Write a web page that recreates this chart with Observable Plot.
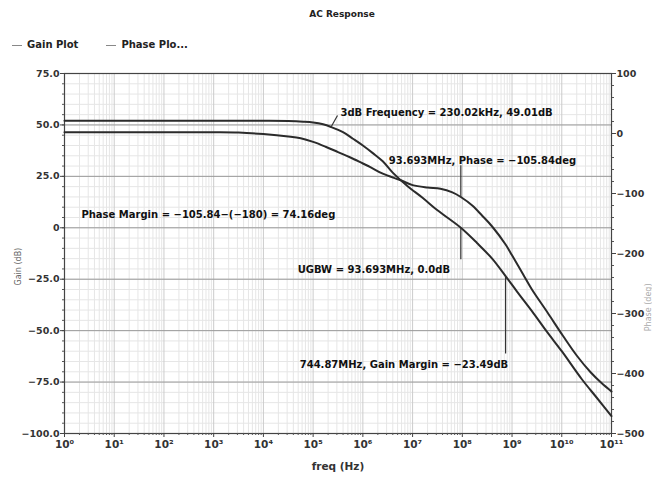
<!DOCTYPE html>
<html>
<head>
<meta charset="utf-8">
<script src="https://cdn.jsdelivr.net/npm/d3@7"></script>
<script src="https://cdn.jsdelivr.net/npm/@observablehq/plot@0.6"></script>
<style>
  body { margin: 0; background: #fff; font-family: "DejaVu Sans", sans-serif; }
  #wrap { position: relative; width: 652px; height: 477px; overflow: hidden; }
  #title { position: absolute; top: 9px; left: 0; width: 684px; text-align: center; font-size: 9px; font-weight: bold; color: #222; }
  #legend { position: absolute; top: 39px; left: 12px; font-size: 10px; font-weight: bold; color: #222; display: flex; gap: 28px; }
  #legend span.sw { display: inline-block; width: 10px; height: 0; border-top: 1.5px solid #888; vertical-align: middle; margin-right: 5px; }
  #chart { position: absolute; top: 58px; left: 0; }
</style>
</head>
<body>
<div id="wrap">
  <div id="title">AC Response</div>
  <div id="legend"><div><span class="sw"></span>Gain Plot</div><div><span class="sw"></span>Phase Plo...</div></div>
  <div id="chart"></div>
</div>
<script>
// ---- data (log10 of frequency in Hz) ----
const gainExp = [0, 1, 2, 3, 4, 4.5, 4.8, 5.0, 5.2, 5.36, 5.6, 5.8, 6.0, 6.2, 6.4, 6.6, 6.9, 7.2, 7.5, 7.97, 8.3, 8.6, 8.87, 9.1, 9.4, 9.7, 10.0, 10.4, 10.7, 11.0];
const gainDb  = [52.0, 52.0, 52.0, 52.0, 52.0, 51.9, 51.6, 51.2, 50.3, 49.0, 46.5, 43.3, 40.0, 36.3, 32.3, 26.8, 20.2, 14.6, 8.5, 0, -7.5, -15, -23.5, -31, -40.5, -50.5, -60, -73.5, -82.5, -91.5];
const phaseExp = [0, 1, 2, 3.0, 3.5, 4.0, 4.5, 4.75, 5.0, 5.25, 5.5, 5.75, 6.0, 6.15, 6.4, 6.76, 7.0, 7.3, 7.56, 7.8, 7.97, 8.2, 8.4, 8.6, 8.87, 9.0, 9.23, 9.4, 9.71, 10.03, 10.3, 10.58, 10.8, 11.0];
const phaseDeg = [2, 2, 2, 2, 1.5, -1, -5, -8, -14, -22, -31, -40, -50, -56, -67, -78, -86, -90, -92, -98, -105.8, -120, -137, -155, -185, -203, -236, -260, -298, -338, -370, -398, -416, -430];

const decadeExps = [0, 1, 2, 3, 4, 5, 6, 7, 8, 9, 10, 11];
const gainTicks = [75, 50, 25, 0, -25, -50, -75, -100];
const phaseTicks = [100, 0, -100, -200, -300, -400, -500];

const annTexts = ["3dB Frequency = 230.02kHz, 49.01dB", "93.693MHz, Phase = \u2212105.84deg", "Phase Margin = \u2212105.84\u2212(\u2212180) = 74.16deg", "UGBW = 93.693MHz, 0.0dB", "744.87MHz, Gain Margin = \u221223.49dB"];
const annExp  = [5.55, 6.52, 0.34, 4.69, 4.73];
const annGain = [55.7, 32.8, 6.5, -20.2, -66.4];

// leaders: from curve point to label
const leadExp   = [5.36, 7.97, 7.97, 8.87];
const leadEndExp = [5.49, 7.97, 7.97, 8.87];
const leadFrom  = [49.01, null, 0, -23.49];   // null -> phase point
const leadTo    = [54.6, 30.4, -15.3, -61.1];
const leadPhase = [null, -105.84, null, null];

// ---- scales between phase and gain axes ----
const toG = p => -100 + (p + 500) * 175 / 600;
const fromG = g => (g + 100) * 600 / 175 - 500;

const gain = gainExp.map((e, i) => ({f: 10 ** e, v: gainDb[i]}));
const phase = phaseExp.map((e, i) => ({f: 10 ** e, v: toG(phaseDeg[i])}));
const ann = annTexts.map((t, i) => ({text: t, f: 10 ** annExp[i], g: annGain[i]}));
const leads = leadExp.map((e, i) => ({f1: 10 ** e, f2: 10 ** leadEndExp[i], g1: leadFrom[i] === null ? toG(leadPhase[i]) : leadFrom[i], g2: leadTo[i]}));

const majorX = decadeExps.map(e => 10 ** e);
const minorX = [];
for (let n = 0; n < 11; n++) for (let k = 2; k <= 9; k++) minorX.push(k * 10 ** n);
const minorY = d3.range(-100, 75.1, 5);
const phaseMinor = d3.range(-500, 100.1, 20).map(toG);

const sup = {"0":"\u2070","1":"\u00b9","2":"\u00b2","3":"\u00b3","4":"\u2074","5":"\u2075","6":"\u2076","7":"\u2077","8":"\u2078","9":"\u2079"};
const fmtX = d => "10" + String(Math.round(Math.log10(d))).split("").map(c => sup[c]).join("");
const fmtY = d => d === 0 ? "0" : (d < 0 ? "\u2212" : "") + Math.abs(d).toFixed(1);
const fmtP = g => { const p = Math.round(fromG(g)); return (p < 0 ? "\u2212" : "") + Math.abs(p); };
const none = () => "";

const chart = Plot.plot({
  width: 652,
  height: 419,
  marginTop: 15,
  marginBottom: 44,
  marginLeft: 64,
  marginRight: 41,
  style: {fontFamily: "'DejaVu Sans', sans-serif", background: "#fff"},
  x: {type: "log", domain: [1, 1e11], axis: null},
  y: {domain: [-100, 75], axis: null},
  marks: [
    Plot.ruleX(minorX, {stroke: "#e6e6e6", strokeWidth: 1}),
    Plot.ruleY(minorY, {stroke: "#e6e6e6", strokeWidth: 1}),
    Plot.ruleX(majorX, {stroke: "#cccccc", strokeWidth: 1}),
    Plot.ruleY(gainTicks, {stroke: "#9a9a9a", strokeWidth: 1}),
    Plot.frame({stroke: "#444", strokeWidth: 1.2}),
    Plot.axisX(minorX, {tickSize: 2, tickFormat: none, stroke: "#555", label: null}),
    Plot.axisX(majorX, {tickSize: 4, tickPadding: 3, tickFormat: fmtX, fontSize: 10.5, fontWeight: "bold", fill: "#333", stroke: "#444", label: "freq (Hz)", labelAnchor: "center", labelOffset: 36, labelArrow: "none"}),
    Plot.axisY(minorY, {anchor: "left", tickSize: 2, tickFormat: none, stroke: "#555", label: null}),
    Plot.axisY(gainTicks, {anchor: "left", tickSize: 4, tickPadding: 1, tickFormat: fmtY, fontSize: 9.5, fontWeight: "bold", fill: "#333", stroke: "#444", label: null}),
    Plot.axisY(phaseMinor, {anchor: "right", tickSize: 2, tickFormat: none, stroke: "#555", label: null}),
    Plot.axisY(phaseTicks.map(toG), {anchor: "right", tickSize: 4, tickPadding: 1, tickFormat: fmtP, fontSize: 9.5, fontWeight: "bold", fill: "#333", stroke: "#444", label: null}),
    Plot.line(gain, {x: "f", y: "v", stroke: "#2b2b2b", strokeWidth: 2, curve: "catmull-rom"}),
    Plot.line(phase, {x: "f", y: "v", stroke: "#2b2b2b", strokeWidth: 2, curve: "catmull-rom"}),
    Plot.link(leads, {x1: "f1", x2: "f2", y1: "g1", y2: "g2", stroke: "#333", strokeWidth: 1.2}),
    Plot.text(ann, {x: "f", y: "g", text: "text", textAnchor: "start", fontSize: 10, fontWeight: "bold", fill: "#111"}),
    Plot.text(["Gain (dB)"], {frameAnchor: "left", dx: -46, rotate: -90, fontSize: 8, fill: "#666", dy: 32}),
    Plot.text(["Phase (deg)"], {frameAnchor: "right", dx: 37, rotate: -90, fontSize: 8, fill: "#aaa", dy: 30})
  ]
});
document.getElementById("chart").appendChild(chart);
</script>
</body>
</html>
